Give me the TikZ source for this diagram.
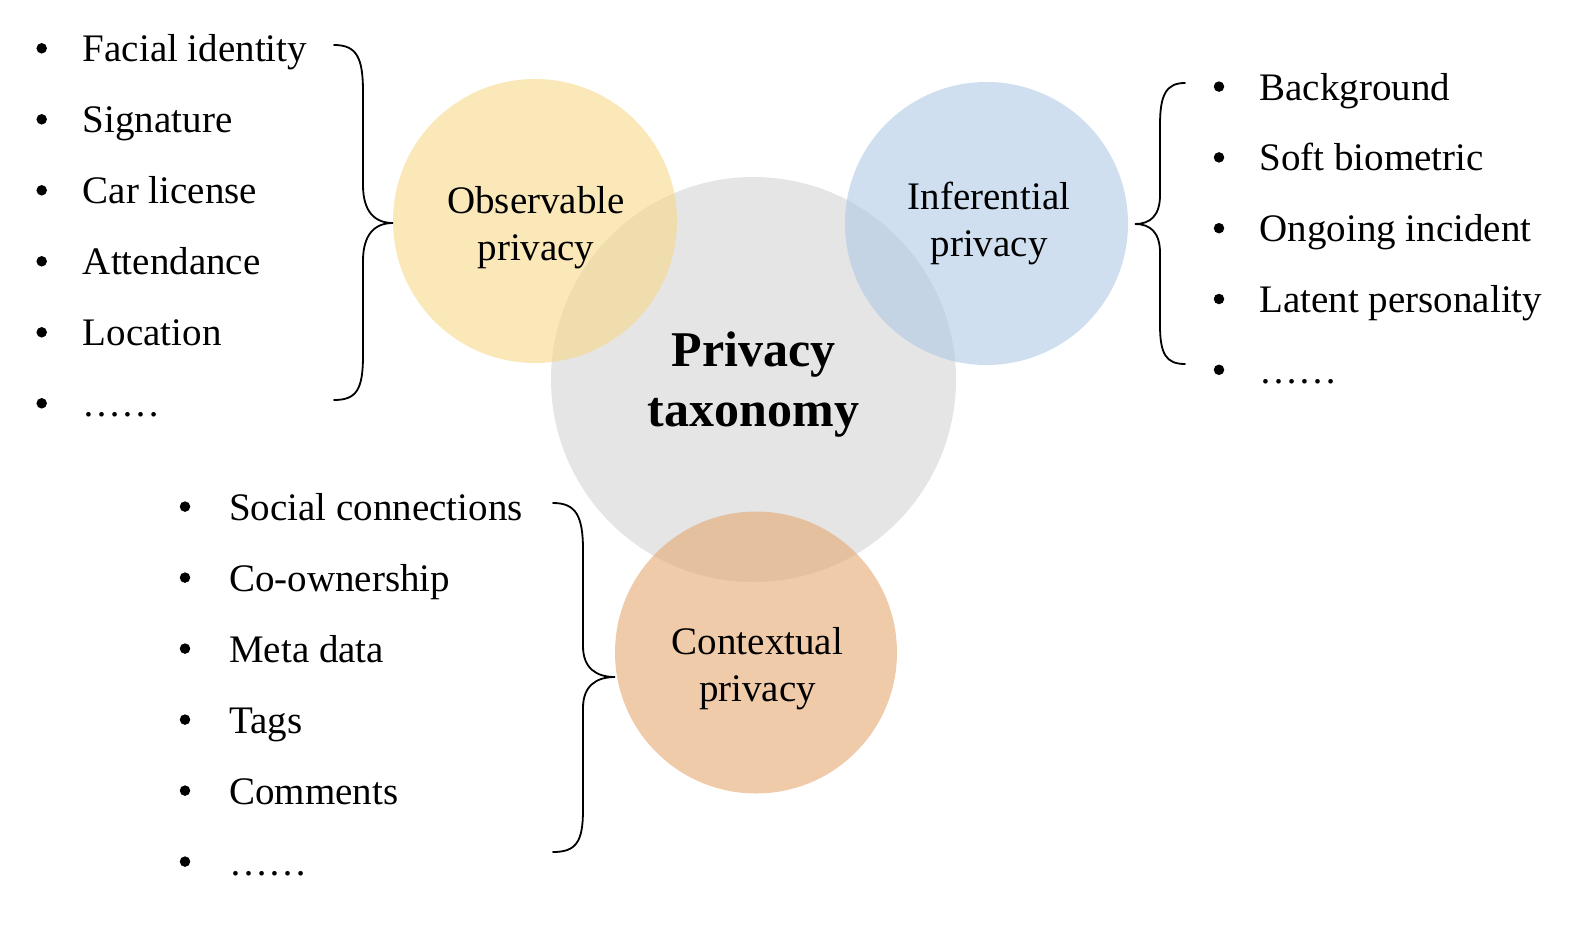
\documentclass[tikz,border=0pt]{standalone}
\usepackage{fontspec}
\setmainfont{Liberation Serif}
\definecolor{cgray}{RGB}{229,229,229}
\definecolor{cyellow}{RGB}{247,217,137}
\definecolor{cblue}{RGB}{177,202,228}
\definecolor{corange}{RGB}{230,168,113}
\tikzset{
  disc/.style={circle, inner sep=0pt, draw=none},
  item/.style={anchor=base west, inner sep=0pt, font=\fontsize{39}{47}\selectfont},
  bul/.style={circle, fill=black, inner sep=0pt, minimum size=10.5pt},
  lab/.style={anchor=base, inner sep=0pt, align=center, font=\fontsize{39}{47}\selectfont},
  brace/.style={draw=black, line width=1.8pt, line cap=round}
}
\begin{document}
\begin{tikzpicture}[x=1pt, y=-1pt]
\useasboundingbox (0,0) rectangle (1582,926);
% circles
\node[disc, fill=cgray, minimum size=405pt] (center) at (753.5,379.5) {};
\node[disc, fill=cyellow, fill opacity=0.6, minimum size=284pt] (obs) at (535,221) {};
\node[disc, fill=cblue, fill opacity=0.6, minimum size=283pt] (inf) at (986.5,223.5) {};
\node[disc, fill=corange, fill opacity=0.6, minimum size=282pt] (ctx) at (756,652.5) {};
% labels (base anchor = baseline of last line)
\node[lab, font=\fontsize{50}{60.7}\selectfont\bfseries] (ct) at (753.5,426.7) {Privacy\\taxonomy};
\node[lab] (obst) at (536,260) {Observable\\privacy};
\node[lab] (inft) at (989,256.7) {Inferential\\privacy};
\node[lab] (ctxt) at (757.5,701.7) {Contextual\\privacy};
% left list
\foreach \t [count=\i] in {Facial identity, Signature, Car license, Attendance, Location, ……}{
  \node[bul] (lb\i) at (41.7,{48.3+71*(\i-1)}) {};
  \node[item] (lt\i) at (82.7,{61.7+71*(\i-1)}) {\t};
}
% right list
\foreach \t [count=\i] in {Background, Soft biometric, Ongoing incident, Latent personality, ……}{
  \node[bul] (rb\i) at (1219,{86.6+70.8*(\i-1)}) {};
  \node[item] (rt\i) at (1259.3,{100+70.8*(\i-1)}) {\t};
}
% bottom list
\foreach \t [count=\i] in {Social connections, Co-ownership, Meta data, Tags, Comments, ……}{
  \node[bul] (bb\i) at (185,{506.6+71*(\i-1)}) {};
  \node[item] (bt\i) at (229,{520+71*(\i-1)}) {\t};
}
% braces
\draw[brace] (334,45) .. controls (357,45) and (363,58) .. (363,92) -- (363,185)
  .. controls (363,212) and (375,223) .. (393,223)
  .. controls (375,223) and (363,234) .. (363,261) -- (363,355)
  .. controls (363,389) and (357,400) .. (334,400);
\draw[brace] (1185,83) .. controls (1166,83) and (1160,95) .. (1160,125) -- (1160,195)
  .. controls (1160,216) and (1150,224) .. (1135,224)
  .. controls (1150,224) and (1160,232) .. (1160,253) -- (1160,325)
  .. controls (1160,354) and (1166,364) .. (1185,364);
\draw[brace] (553,503) .. controls (576,503) and (583,516) .. (583,550) -- (583,646)
  .. controls (583,668) and (596,677) .. (615,677)
  .. controls (596,677) and (583,686) .. (583,708) -- (583,810)
  .. controls (583,842) and (576,852) .. (553,852);
\end{tikzpicture}
\end{document}
